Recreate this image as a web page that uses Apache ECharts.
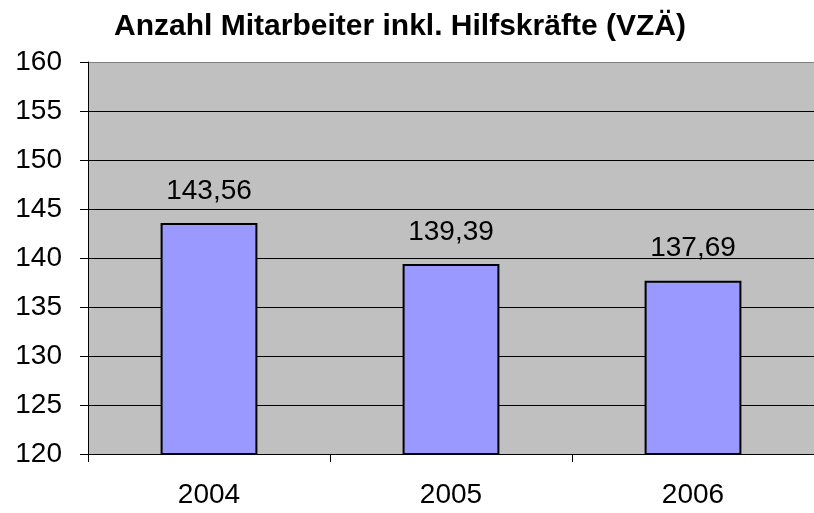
<!DOCTYPE html>
<html><head><meta charset="utf-8">
<script src="https://cdn.jsdelivr.net/npm/echarts@6/dist/echarts.min.js"></script>
<style>html,body{margin:0;padding:0;background:#fff}#c{width:814px;height:513px}</style>
</head><body><div id="c"></div>
<script>
const categories = ['2004', '2005', '2006'];
const values = [143.56, 139.39, 137.69];
const yTicks = [120, 125, 130, 135, 140, 145, 150, 155, 160];
const title = 'Anzahl Mitarbeiter inkl. Hilfskräfte (VZÄ)';

const chart = echarts.init(document.getElementById('c'), null, {renderer: 'canvas'});
const font = '"Liberation Sans", Arial, sans-serif';
const splitColors = yTicks.map((v, i) => i === yTicks.length - 1 ? '#808080' : '#000000');
chart.setOption({
  animation: false,
  title: {
    text: title, left: 395, top: 7, textAlign: 'center',
    textStyle: {fontFamily: font, fontWeight: 'bold', fontSize: 30, color: '#000'}
  },
  grid: {left: 88, top: 62, right: 0, bottom: 59, show: true, backgroundColor: '#C0C0C0', borderWidth: 0},
  xAxis: {
    type: 'category', data: categories,
    axisLine: {show: true, lineStyle: {color: '#000', width: 1}},
    axisTick: {show: true, length: 8, alignWithLabel: false, lineStyle: {color: '#000'}},
    axisLabel: {fontFamily: font, fontSize: 28, color: '#000', margin: 27}
  },
  yAxis: {
    type: 'value', min: yTicks[0], max: yTicks[yTicks.length - 1], interval: 5,
    axisLine: {show: true, lineStyle: {color: '#000', width: 1}},
    axisTick: {show: true, length: 8, lineStyle: {color: '#000'}},
    axisLabel: {fontFamily: font, fontSize: 28, color: '#000', margin: 26},
    splitLine: {show: true, lineStyle: {color: splitColors, width: 1}}
  },
  series: [{
    type: 'bar', data: values, barWidth: '40%',
    itemStyle: {color: '#9999FF', borderColor: '#000', borderWidth: 2},
    label: {
      show: true, position: 'top', distance: 18,
      fontFamily: font, fontSize: 28, color: '#000',
      formatter: p => p.value.toFixed(2).replace('.', ',')
    }
  }]
});
</script></body></html>
